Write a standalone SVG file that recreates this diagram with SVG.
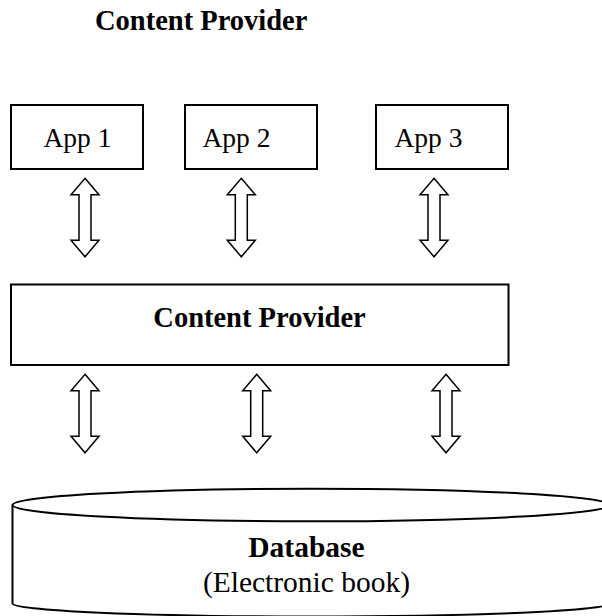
<svg xmlns="http://www.w3.org/2000/svg" xmlns:xlink="http://www.w3.org/1999/xlink" width="602" height="616" viewBox="0 0 602 616">
<style>
.box{fill:#fff;stroke:#000;stroke-width:2}
.arr{fill:#fff;stroke:#000;stroke-width:1.5;stroke-linejoin:miter}
.t{font-family:"Liberation Serif","Times New Roman",serif;font-size:27.5px;fill:#000}
.b{font-weight:bold}
</style>
<defs>
<path id="dbl" class="arr" d="M0,0 L14,16.5 L6,16.5 L6,62 L14,62 L0,78.5 L-14,62 L-6,62 L-6,16.5 L-14,16.5 Z"/>
</defs>
<rect width="602" height="616" fill="#fff"/>
<text class="t b" x="95" y="30" style="font-size:28.5px">Content Provider</text>
<g id="app1"><rect class="box" x="11" y="105" width="132" height="64"/><text class="t" x="43.5" y="147">App 1</text></g>
<g id="app2"><rect class="box" x="185" y="105" width="132" height="64"/><text class="t" x="202.5" y="147">App 2</text></g>
<g id="app3"><rect class="box" x="376" y="105" width="132" height="64"/><text class="t" x="394.5" y="147">App 3</text></g>
<g id="provider"><rect class="box" x="11" y="284.5" width="497.5" height="80.5"/><text class="t b" x="259.5" y="327" text-anchor="middle" style="font-size:28.5px">Content Provider</text></g>
<g id="database">
<path class="box" d="M12.5,505 L12.5,603.5 A298.5,13 0 0 0 609.5,603.5 L609.5,505"/>
<ellipse class="box" cx="311" cy="505" rx="298.5" ry="16.3"/>
<text class="t b" x="306.5" y="557" text-anchor="middle" style="font-size:29.5px">Database</text>
<text class="t" x="306.5" y="592" text-anchor="middle" style="font-size:29.5px">(Electronic book)</text>
</g>
<g id="connectors">
<use xlink:href="#dbl" transform="translate(85,178.3)"/>
<use xlink:href="#dbl" transform="translate(241.3,178.3)"/>
<use xlink:href="#dbl" transform="translate(434,178.3)"/>
<use xlink:href="#dbl" transform="translate(85,374.3)"/>
<use xlink:href="#dbl" transform="translate(256.7,374.3)"/>
<use xlink:href="#dbl" transform="translate(446,374.3)"/>
</g>
</svg>
